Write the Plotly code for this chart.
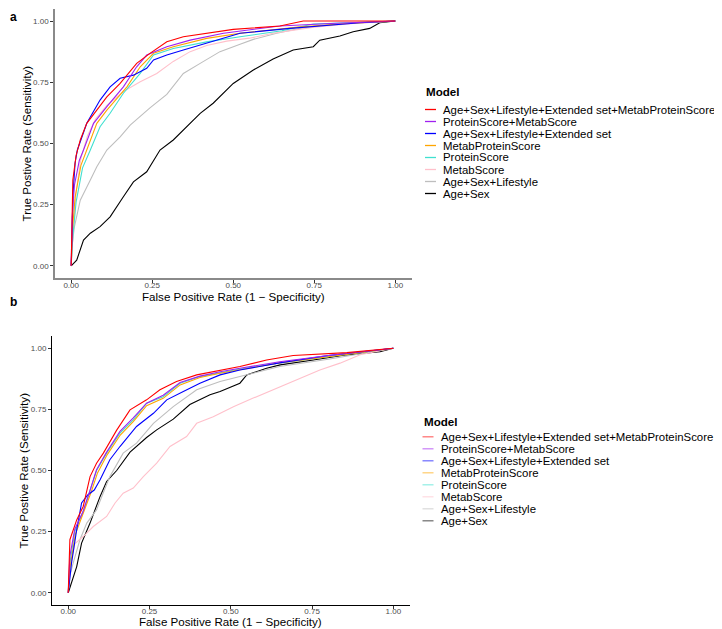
import plotly.graph_objects as go

# page body has an 8px margin: figure is drawn from (8, 8)
OFF = 8
W, H = 722 - OFF, 629 - OFF

models = ["Age+Sex+Lifestyle+Extended set+MetabProteinScore", "ProteinScore+MetabScore",
          "Age+Sex+Lifestyle+Extended set", "MetabProteinScore", "ProteinScore", "MetabScore",
          "Age+Sex+Lifestyle", "Age+Sex"]
colors = ["#FF0000", "#A020F0", "#0000FF", "#FFA500", "#40E0D0", "#FFC0CB", "#BEBEBE", "#000000"]
colors_b_key = ["rgba(255,0,0,0.55)", "rgba(160,32,240,0.55)", "rgba(0,0,255,0.55)", "rgba(255,165,0,0.55)",
                "rgba(64,224,208,0.55)", "rgba(255,192,203,0.55)", "rgba(190,190,190,0.55)", "rgba(0,0,0,0.55)"]
tick_vals = [0, 0.25, 0.5, 0.75, 1.0]
tick_text = ["0.00", "0.25", "0.50", "0.75", "1.00"]

# ---- Panel a ROC curves (FPR, TPR) ----
a_red_x = [0, 0.002, 0.005, 0.015, 0.028, 0.048, 0.079, 0.11, 0.151, 0.202, 0.243, 0.295, 0.346, 0.418, 0.5, 0.644, 0.716, 1]
a_red_y = [0, 0.2, 0.35, 0.45, 0.514, 0.582, 0.636, 0.69, 0.745, 0.827, 0.868, 0.915, 0.936, 0.95, 0.966, 0.98, 1.0, 1]
a_pur_x = [0, 0.003, 0.01, 0.025, 0.038, 0.069, 0.11, 0.161, 0.202, 0.233, 0.295, 0.367, 0.47, 0.644, 0.8, 1]
a_pur_y = [0, 0.2, 0.33, 0.43, 0.473, 0.582, 0.65, 0.731, 0.813, 0.861, 0.895, 0.922, 0.95, 0.98, 0.99, 1]
a_blu_x = [0, 0.002, 0.006, 0.012, 0.019, 0.048, 0.089, 0.12, 0.151, 0.192, 0.233, 0.254, 0.295, 0.346, 0.418, 0.521, 0.675, 0.798, 0.891, 1]
a_blu_y = [0, 0.15, 0.3, 0.42, 0.473, 0.582, 0.677, 0.731, 0.766, 0.779, 0.807, 0.841, 0.861, 0.882, 0.909, 0.95, 0.97, 0.984, 0.993, 1]
a_ora_x = [0, 0.004, 0.012, 0.03, 0.048, 0.079, 0.11, 0.172, 0.213, 0.254, 0.315, 0.418, 0.521, 0.7, 0.85, 1]
a_ora_y = [0, 0.15, 0.28, 0.41, 0.473, 0.582, 0.636, 0.731, 0.813, 0.868, 0.895, 0.929, 0.95, 0.975, 0.99, 1]
a_tur_x = [0, 0.005, 0.015, 0.035, 0.059, 0.089, 0.12, 0.161, 0.213, 0.254, 0.315, 0.418, 0.521, 0.65, 0.747, 1]
a_tur_y = [0, 0.12, 0.26, 0.4, 0.473, 0.568, 0.623, 0.705, 0.786, 0.861, 0.888, 0.915, 0.936, 0.96, 0.988, 1]
a_pin_x = [0, 0.005, 0.015, 0.03, 0.05, 0.075, 0.11, 0.161, 0.213, 0.264, 0.315, 0.367, 0.418, 0.48, 0.55, 0.623, 0.75, 0.87, 1]
a_pin_y = [0, 0.12, 0.3, 0.44, 0.53, 0.6, 0.655, 0.712, 0.752, 0.786, 0.835, 0.875, 0.9, 0.918, 0.93, 0.95, 0.975, 0.99, 1]
a_gry_x = [0, 0.002, 0.01, 0.028, 0.059, 0.079, 0.11, 0.151, 0.182, 0.243, 0.295, 0.346, 0.398, 0.459, 0.521, 0.562, 0.634, 0.706, 0.8, 0.952, 1]
a_gry_y = [0, 0.078, 0.16, 0.268, 0.35, 0.405, 0.473, 0.527, 0.575, 0.645, 0.7, 0.786, 0.827, 0.875, 0.905, 0.925, 0.95, 0.97, 0.985, 0.995, 1]
a_blk_x = [0, 0.017, 0.038, 0.059, 0.089, 0.12, 0.161, 0.192, 0.233, 0.274, 0.315, 0.356, 0.398, 0.438, 0.5, 0.562, 0.623, 0.685, 0.747, 0.767, 0.829, 0.87, 0.921, 0.952, 1]
a_blk_y = [0, 0.023, 0.105, 0.133, 0.16, 0.2, 0.282, 0.343, 0.384, 0.473, 0.514, 0.568, 0.623, 0.664, 0.745, 0.8, 0.845, 0.882, 0.895, 0.922, 0.939, 0.956, 0.97, 0.993, 1]

# ---- Panel b ROC curves ----
b_red_x = [0, 0.005, 0.026, 0.046, 0.067, 0.087, 0.108, 0.149, 0.19, 0.241, 0.282, 0.333, 0.395, 0.467, 0.528, 0.61, 0.692, 0.857, 1]
b_red_y = [0, 0.217, 0.298, 0.353, 0.475, 0.53, 0.571, 0.665, 0.748, 0.789, 0.83, 0.864, 0.891, 0.911, 0.925, 0.952, 0.97, 0.982, 1]
b_pur_x = [0, 0.005, 0.02, 0.045, 0.065, 0.087, 0.118, 0.159, 0.2, 0.241, 0.292, 0.344, 0.405, 0.467, 0.528, 0.65, 0.8, 1]
b_pur_y = [0, 0.15, 0.26, 0.33, 0.41, 0.503, 0.575, 0.66, 0.715, 0.775, 0.808, 0.86, 0.886, 0.904, 0.918, 0.945, 0.97, 1]
b_blu_x = [0, 0.01, 0.025, 0.041, 0.06, 0.08, 0.098, 0.128, 0.159, 0.21, 0.262, 0.303, 0.354, 0.405, 0.467, 0.528, 0.65, 0.8, 1]
b_blu_y = [0, 0.121, 0.25, 0.367, 0.4, 0.42, 0.462, 0.544, 0.598, 0.68, 0.734, 0.789, 0.823, 0.857, 0.891, 0.911, 0.94, 0.97, 1]
b_ora_x = [0, 0.005, 0.022, 0.048, 0.07, 0.09, 0.12, 0.16, 0.2, 0.241, 0.292, 0.344, 0.405, 0.467, 0.528, 0.65, 0.8, 1]
b_ora_y = [0, 0.1, 0.24, 0.33, 0.41, 0.49, 0.565, 0.645, 0.7, 0.765, 0.795, 0.85, 0.88, 0.898, 0.912, 0.94, 0.965, 1]
b_tur_x = [0, 0.005, 0.02, 0.045, 0.065, 0.087, 0.118, 0.159, 0.2, 0.241, 0.292, 0.344, 0.405, 0.467, 0.528, 0.65, 0.8, 1]
b_tur_y = [0, 0.12, 0.25, 0.33, 0.41, 0.5, 0.571, 0.653, 0.707, 0.775, 0.802, 0.857, 0.884, 0.9, 0.915, 0.94, 0.965, 1]
b_pin_x = [0, 0.005, 0.02, 0.046, 0.077, 0.118, 0.144, 0.169, 0.2, 0.231, 0.272, 0.313, 0.364, 0.395, 0.446, 0.508, 0.569, 0.641, 0.713, 0.774, 0.836, 0.898, 0.959, 1]
b_pin_y = [0, 0.1, 0.2, 0.23, 0.271, 0.312, 0.367, 0.407, 0.428, 0.475, 0.53, 0.598, 0.639, 0.693, 0.72, 0.761, 0.796, 0.837, 0.877, 0.911, 0.939, 0.973, 0.99, 1]
b_gry_x = [0, 0.005, 0.015, 0.036, 0.057, 0.087, 0.105, 0.128, 0.169, 0.21, 0.262, 0.323, 0.395, 0.467, 0.528, 0.65, 0.8, 1]
b_gry_y = [0, 0.07, 0.121, 0.217, 0.285, 0.339, 0.4, 0.475, 0.571, 0.612, 0.693, 0.761, 0.83, 0.864, 0.884, 0.925, 0.955, 1]
b_blk_x = [0, 0.01, 0.026, 0.041, 0.067, 0.098, 0.118, 0.149, 0.19, 0.241, 0.272, 0.323, 0.374, 0.436, 0.467, 0.528, 0.549, 0.61, 0.652, 0.754, 0.857, 0.959, 1]
b_blk_y = [0, 0.04, 0.107, 0.203, 0.285, 0.394, 0.455, 0.5, 0.575, 0.635, 0.666, 0.71, 0.77, 0.81, 0.823, 0.857, 0.891, 0.918, 0.932, 0.952, 0.973, 0.986, 1]

panel_a = [(a_red_x, a_red_y), (a_pur_x, a_pur_y), (a_blu_x, a_blu_y), (a_ora_x, a_ora_y),
           (a_tur_x, a_tur_y), (a_pin_x, a_pin_y), (a_gry_x, a_gry_y), (a_blk_x, a_blk_y)]
panel_b = [(b_red_x, b_red_y), (b_pur_x, b_pur_y), (b_blu_x, b_blu_y), (b_ora_x, b_ora_y),
           (b_tur_x, b_tur_y), (b_pin_x, b_pin_y), (b_gry_x, b_gry_y), (b_blk_x, b_blk_y)]

FONT = "Liberation Sans, Arial, sans-serif"

def px(x):
    return (x - OFF) / W

def py(y):
    return 1 - (y - OFF) / H

fig = go.Figure()

for i in reversed(range(8)):
    xs, ys = panel_a[i]
    fig.add_trace(go.Scatter(x=xs, y=ys, mode="lines", line=dict(color=colors[i], width=1.1),
                             name=models[i], showlegend=False, xaxis="x", yaxis="y"))
for i in reversed(range(8)):
    xs, ys = panel_b[i]
    fig.add_trace(go.Scatter(x=xs, y=ys, mode="lines", line=dict(color=colors[i], width=1.1),
                             name=models[i], showlegend=False, xaxis="x2", yaxis="y2"))

def axis(domain, anchor, linecolor, linewidth, standoff):
    return dict(domain=domain, anchor=anchor, range=[-0.05, 1.05], tickvals=tick_vals, ticktext=tick_text,
                showgrid=False, zeroline=False, showline=True, linecolor=linecolor, linewidth=linewidth,
                ticks="outside", ticklen=3, tickwidth=1, tickcolor="#333333", ticklabelstandoff=standoff,
                tickfont=dict(family=FONT, size=8, color="#4d4d4d"), fixedrange=True)

# plot areas in reference pixels
A = dict(l=55, r=411.5, t=8.8, b=278)
B = dict(l=52, r=409.6, t=336, b=605)

fig.update_layout(
    width=W, height=H, margin=dict(l=0, r=0, t=0, b=0, pad=0),
    paper_bgcolor="white", plot_bgcolor="white", showlegend=False,
    xaxis=axis([px(A["l"]), px(A["r"])], "y", "#8a8a8a", 1.6, -4),
    yaxis=axis([py(A["b"]), py(A["t"])], "x", "#8a8a8a", 1.6, 0),
    xaxis2=axis([px(B["l"]), px(B["r"])], "y2", "#000000", 1, -5),
    yaxis2=axis([py(B["b"]), py(B["t"])], "x2", "#000000", 1, 0),
)

ann = []
shapes = []
ann.append(dict(x=0.0, y=1.0, text="<b>a</b>", showarrow=False, xanchor="left", yanchor="top",
                font=dict(family=FONT, size=12, color="black"), xref="paper", yref="paper"))
ann.append(dict(x=0.0, y=py(302), text="<b>b</b>", showarrow=False, xanchor="left", yanchor="middle",
                font=dict(family=FONT, size=12, color="black"), xref="paper", yref="paper"))

for P, xt_y, yt_x in [(A, 296, 26), (B, 621.8, 23)]:
    ann.append(dict(x=px((P["l"] + P["r"]) / 2), y=py(xt_y), text="False Positive Rate (1 \u2212 Specificity)",
                    showarrow=False, xanchor="center", yanchor="middle",
                    font=dict(family=FONT, size=11.6, color="black"), xref="paper", yref="paper"))
    ann.append(dict(x=px(yt_x), y=py((P["t"] + P["b"]) / 2), text="True Postive Rate (Sensitivity)",
                    showarrow=False, xanchor="center", yanchor="middle", textangle=-90,
                    font=dict(family=FONT, size=11.6, color="black"), xref="paper", yref="paper"))

for title_y, first_y, key_l, key_r, text_x, title_x, keycols, fsize in [
        (92, 109.5, 425, 436, 442, 425, colors, 11.4),
        (421, 436.8, 422.5, 433.5, 440, 422.5, colors_b_key, 11.4)]:
    ann.append(dict(x=px(title_x), y=py(title_y), text="<b>Model</b>", showarrow=False, xanchor="left",
                    yanchor="middle", font=dict(family=FONT, size=11.6, color="black"),
                    xref="paper", yref="paper", xshift=-1))
    for i in range(8):
        yy = first_y + i * 12.0
        shapes.append(dict(type="line", xref="paper", yref="paper", x0=px(key_l), x1=px(key_r),
                           y0=py(yy), y1=py(yy), line=dict(color=keycols[i], width=1.3)))
        ann.append(dict(x=px(text_x), y=py(yy), text=models[i], showarrow=False, xanchor="left",
                        yanchor="middle", font=dict(family=FONT, size=fsize, color="black"),
                        xref="paper", yref="paper", xshift=-1))

fig.update_layout(annotations=ann, shapes=shapes)
fig.write_html("out.html")
